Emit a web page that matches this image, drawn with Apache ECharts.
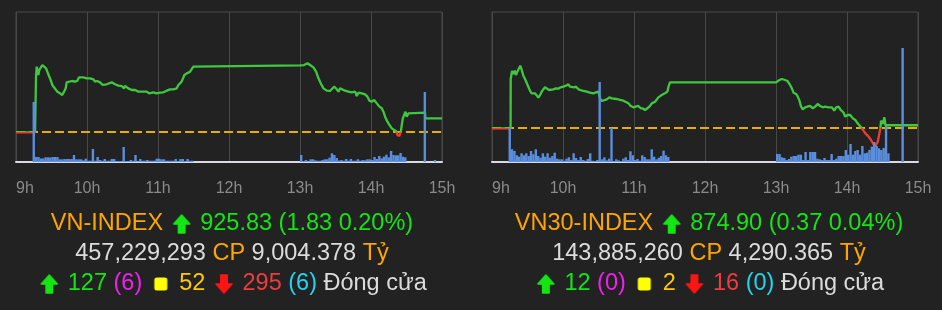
<!DOCTYPE html>
<html><head><meta charset="utf-8">
<script src="https://cdn.jsdelivr.net/npm/echarts@6/dist/echarts.min.js"></script>
<style>html,body{margin:0;padding:0;background:#222222;}#c{width:942px;height:310px;}</style>
</head><body><div id="c"></div>
<script>
// ---- tick labels (x axis: minutes after 09:00) ----
const hourTicks = ['9h', '10h', '11h', '12h', '13h', '14h', '15h'];

// ---- VN-INDEX ----
const vnRef = 924.00;
const vnTime = [0,16.1,16.9,17.5,18.9,19.7,20.9,22.3,23.9,25.4,26.8,27.9,29.3,30.7,32.1,33.5,34.9,37.2,39.1,40.6,42.0,42.8,44.2,47.1,49.9,51.8,53.3,56.9,59.7,62.6,65.4,66.8,68.7,71.0,73.3,76.6,80.9,83.7,86.5,89.3,91.3,92.1,94.9,97.8,100.6,103.4,106.2,107.6,110.5,112.4,116.1,118.9,121.7,124.5,127.4,130.2,133.0,135.8,137.2,140.0,142.3,144.3,147.1,148.5,149.9,150.5,
  240.1,241.5,243.4,246.3,248.5,251.3,253.6,255.6,257.5,259.8,262.6,265.4,266.8,268.8,270.5,272.5,273.9,275.3,278.1,280.9,283.7,286.6,288.0,289.4,292.2,295.0,297.0,298.7,300.6,302.6,304.9,307.1,309.1,310.5,311.9,313.9,315.6,317.6,319.5,321.2,322.3,324.0,325.2,326.0,326.9,328.0,329.1,330.2,331.6,345.7,345.9,360];
const vnPrice = [923.96,923.96,931.30,932.71,931.60,932.27,932.04,932.93,932.80,932.49,932.27,931.47,930.93,930.27,929.96,929.96,929.38,929.16,928.93,929.38,929.82,930.62,930.84,930.80,930.71,930.84,931.29,931.29,931.16,931.16,931.02,930.71,930.80,930.62,930.27,930.36,930.62,930.36,930.18,930.13,929.82,930.13,929.82,929.60,929.60,929.38,929.38,929.16,929.38,929.16,929.29,929.16,929.24,929.29,929.51,929.69,929.69,929.82,930.27,930.71,931.60,931.82,932.04,932.27,932.71,932.87,
  932.87,932.67,932.93,933.16,932.93,932.62,932.04,931.16,930.49,929.82,929.51,929.47,929.69,930.04,929.82,929.38,929.82,929.60,929.51,929.38,929.29,929.38,928.80,929.24,929.16,929.02,928.71,928.18,928.04,928.27,927.82,927.38,927.16,926.71,926.04,925.38,924.93,924.49,924.27,924.13,923.60,923.47,924.04,924.93,925.82,926.04,926.71,926.04,926.49,926.58,925.83,925.83];
const vnVolTime = [15,17,19,21,23,25,27,29,31,33,35,37,39,41,43,45,47,49,51,53,55,57,59,61,63,65,67,69,71,73,75,77,79,81,83,85,87,89,91,93,95,97,99,101,103,105,107,109,111,113,115,117,119,121,123,125,127,129,131,133,135,137,139,141,143,145,147,149,
  241,243,245,247,249,251,253,255,257,259,261,263,265,267,269,271,273,275,277,279,281,283,285,287,289,291,293,295,297,299,301,303,305,307,309,311,313,315,317,319,321,323,325,327,329,345.5,354];
const vnVolume = [60,5,5,3.5,3.5,4.7,4.7,4.5,5,5,5,2.7,2.7,3,3,3,3,7,2.7,2.7,2.7,1.7,3.3,1.3,1.3,13,1.3,5,2,1.3,3,1.3,1.3,3,3,1,1,1,15,1,1,2,1.3,7,0.7,3,1.3,1.3,2,1.3,1.3,1.3,3.3,3.3,2.7,2.7,1.3,1.3,1.3,1.3,3,1,3,3,1,3,1.3,1.3,
  7,1,2,0.7,2.7,2.7,1.7,1.3,1.3,2,2.7,2.7,4.3,8.7,7,4,1.5,2,1.3,3,1.3,3,1.3,1.3,2.7,1.3,2,1.7,2.7,2.7,2,5,3,6,3.7,5.3,7.3,4.7,11,7,6.7,6.7,9,5.3,4.7,70,2];
const vnHead = ['VN-INDEX', '925.83', '1.83', '0.20%'];
const vnTrade = ['457,229,293', '9,004.378'];
const vnBreadth = ['127', '6', '52', '295', '6'];

// ---- VN30-INDEX ----
const vn30Ref = 874.53;
const vn30Time = [0,15.7,15.8,16.9,18.0,19.2,20.3,21.4,22.8,23.9,25.1,26.5,27.9,29.3,30.7,32.1,33.5,34.9,36.3,37.7,39.2,40.6,42.0,43.4,44.8,46.2,48.2,49.6,51.8,54.1,56.1,58.0,60.3,62.5,64.5,65.9,67.3,69.3,71.0,73.0,74.4,77.2,80.0,82.8,85.7,87.9,89.9,91.3,92.7,94.1,97.0,99.2,101.2,102.6,105.4,108.2,111.0,112.4,115.3,117.2,119.5,120.9,123.7,125.7,127.4,129.3,131.3,133.6,135.0,136.4,137.8,140.6,143.4,146.2,148.2,149.3,150.4,
  240.1,241.2,242.9,244.9,247.7,249.7,251.9,253.4,254.8,257.0,258.4,259.8,261.2,262.6,264.6,266.6,268.8,271.1,273.1,275.1,277.3,279.6,281.5,284.4,287.2,289.2,290.9,292.8,294.8,297.1,298.5,300.4,302.7,305.0,307.0,309.0,310.6,312.6,315.5,318.3,320.3,322.0,323.7,324.8,326.0,327.1,328.2,328.8,330.2,331.6,332.5,360];
const vn30Price = [874.49,874.49,881.07,882.13,881.73,882.18,881.60,882.04,882.49,882.84,882.27,881.51,881.07,880.93,880.04,879.51,879.16,879.38,879.16,878.93,878.58,878.93,879.38,879.69,879.96,879.82,879.60,879.78,879.69,879.82,879.78,879.96,880.04,880.18,880.36,880.04,879.78,879.96,880.04,879.69,879.51,879.47,879.38,879.24,879.16,879.29,879.38,878.49,878.13,878.27,878.36,878.62,878.49,878.36,878.40,878.27,878.18,878.04,877.82,877.47,877.29,877.47,877.47,877.16,877.16,876.93,877.16,877.47,877.82,877.60,878.04,878.62,878.93,879.16,879.38,880.13,880.62,
  880.62,880.71,880.93,881.07,880.93,880.80,880.27,879.82,879.24,879.07,878.71,878.18,877.38,877.02,877.29,877.38,877.47,877.16,877.38,877.73,877.47,877.29,877.38,877.29,877.29,876.84,877.29,877.38,876.93,876.58,876.04,876.27,876.27,875.82,875.60,875.16,874.93,874.49,873.82,873.38,872.93,872.49,872.04,871.91,872.71,873.60,874.49,875.51,875.07,875.96,874.90,874.90];
const vn30VolTime = [15,17,19,21,23,25,27,29,31,33,35,37,39,41,43,45,47,49,51,53,55,57,59,61,63,65,67,69,71,73,75,77,79,81,83,85,87,89,91,93,95,97,99,101,103,105,107,109,111,113,115,117,119,121,123,125,127,129,131,133,135,137,139,141,143,145,147,149,
  241,243,245,247,249,251,253,255,257,259,261,263,265,267,269,271,273,275,277,279,281,283,285,287,289,291,293,295,297,299,301,303,305,307,309,311,313,315,317,319,321,323,325,327,329,331,333,335,347];
const vn30Volume = [34,12.7,11,6.7,5.3,8.7,6.7,8.7,6,11,7.7,12.7,6,4.3,8.7,5.3,8.7,4.3,6,9.3,3.3,2.7,2.7,1.3,3.3,4.7,2,8.7,4,2,5,2,1.3,3,8.7,1.3,1,2,80,2.7,4.7,1.7,3.3,34,1,2.7,1.7,1,3.3,4.7,2,10.7,6.7,2,3,1.3,6.7,5,2.7,2.7,12.7,5.3,2.7,4.3,6,11.3,6.7,5,
  8,8,4.7,4,2,3,5.3,6,6,7.3,7.3,2,10,2,10,10,10,3.3,2.7,2,4,2,2,8,2,3.3,6,6,6,12,7.3,18,7.3,11,12,7.3,16,8.7,9.3,12,15.3,20,16,13.7,12,14,36,8.7,114];
const vn30Head = ['VN30-INDEX', '874.90', '0.37', '0.04%'];
const vn30Trade = ['143,885,260', '4,290.365'];
const vn30Breadth = ['12', '0', '2', '16', '0'];

// ---- helpers ----
const FONT = 'Liberation Sans, Arial, sans-serif';
const FS = 23.5;
const UP = '#3ec83e', DOWN = '#f03c2c';
function icon(kind, color) {
  const c = document.createElement('canvas');
  c.width = 24; c.height = 20;
  const g = c.getContext('2d');
  g.fillStyle = color; g.strokeStyle = color; g.lineJoin = 'round'; g.lineWidth = 1.5;
  g.beginPath();
  if (kind === 'sq') {
    const x = 5.5, y = 3.5, w = 13, h = 13, r = 2.5;
    g.moveTo(x + r, y); g.lineTo(x + w - r, y); g.quadraticCurveTo(x + w, y, x + w, y + r);
    g.lineTo(x + w, y + h - r); g.quadraticCurveTo(x + w, y + h, x + w - r, y + h);
    g.lineTo(x + r, y + h); g.quadraticCurveTo(x, y + h, x, y + h - r);
    g.lineTo(x, y + r); g.quadraticCurveTo(x, y, x + r, y);
    g.closePath(); g.fill();
    return c;
  }
  const pts = [[12, 1], [20, 10], [15.2, 10], [15.2, 19], [8.8, 19], [8.8, 10], [4, 10]];
  pts.forEach((p, i) => {
    const y = kind === 'dn' ? 20 - p[1] : p[1];
    if (i === 0) g.moveTo(p[0], y); else g.lineTo(p[0], y);
  });
  g.closePath(); g.fill(); g.stroke();
  return c;
}
const upIcon = icon('up', '#14e614');
const dnIcon = icon('dn', '#ff1414');
const sqIcon = icon('sq', '#ffff00');
function rs(color) { return { color: color, fontSize: FS, fontFamily: FONT, fontWeight: 'normal', lineHeight: 30 }; }
const rich = {
  o: rs('#ffa500'), g: rs('#14e614'), w: rs('#dcdcdc'), m: rs('#f020f0'),
  y: rs('#ffc800'), r: rs('#f03c3c'), c: rs('#22d4ee'),
  up: { width: 24, height: 20, lineHeight: 30, backgroundColor: { image: upIcon } },
  dn: { width: 24, height: 20, lineHeight: 30, backgroundColor: { image: dnIcon } },
  sq: { width: 24, height: 20, lineHeight: 30, backgroundColor: { image: sqIcon } }
};
function titleText(h, t, b) {
  return '{o|' + h[0] + '} {up|} {g|' + h[1] + ' (' + h[2] + ' ' + h[3] + ')}\n' +
    '{w|' + t[0] + '} {o|CP} {w|' + t[1] + '} {o|Tỷ}\n' +
    '{up|} {g|' + b[0] + '} {m|(' + b[1] + ')} {sq|} {y|' + b[2] + '} {dn|} {r|' + b[3] + '} {c|(' + b[4] + ')} {w|Đóng cửa}';
}
function xAxisFor(i) {
  return {
    gridIndex: i, type: 'value', min: 0, max: 360, interval: 60,
    axisLine: { show: true, onZero: false, lineStyle: { color: '#dadae4', width: 2 } },
    axisTick: { show: false },
    splitLine: { show: true, lineStyle: { color: '#484848', width: 1 } },
    axisLabel: {
      color: '#8a8a8a', fontSize: 16, fontFamily: FONT, margin: 19,
      showMinLabel: true, showMaxLabel: true, alignMinLabel: 'left',
      formatter: v => hourTicks[Math.round(v / 60)]
    }
  };
}
function zip(a, b) { return a.map((t, i) => [t, b[i]]); }
function panelSeries(k, times, prices, ref, vt, vv) {
  return [
    { type: 'line', xAxisIndex: k, yAxisIndex: 2 * k, data: zip(times, prices), showSymbol: false, symbol: 'none',
      lineStyle: { width: 2.3 }, z: 3, silent: true },
    { type: 'line', xAxisIndex: k, yAxisIndex: 2 * k, data: [[0, ref], [360, ref]], showSymbol: false, symbol: 'none',
      lineStyle: { width: 2, color: '#e2ae08', type: [9, 4] }, itemStyle: { color: '#e2ae08' }, z: 2, silent: true },
    { type: 'bar', xAxisIndex: k, yAxisIndex: 2 * k + 1, data: zip(vt, vv), barWidth: 2.4,
      itemStyle: { color: '#5a8fdf' }, z: 4, silent: true }
  ];
}

const chart = echarts.init(document.getElementById('c'), null, { renderer: 'canvas' });
chart.setOption({
  backgroundColor: '#222222',
  animation: false,
  title: [
    { left: 232, top: 209, textAlign: 'center', padding: 0, text: titleText(vnHead, vnTrade, vnBreadth),
      textStyle: { fontSize: FS, fontFamily: FONT, fontWeight: 'normal', color: '#dcdcdc', lineHeight: 30, rich: rich } },
    { left: 709, top: 209, textAlign: 'center', padding: 0, text: titleText(vn30Head, vn30Trade, vn30Breadth),
      textStyle: { fontSize: FS, fontFamily: FONT, fontWeight: 'normal', color: '#dcdcdc', lineHeight: 30, rich: rich } }
  ],
  grid: [
    { left: 16, top: 12, width: 426, height: 150, show: true, borderColor: '#4a4a4a', borderWidth: 1, backgroundColor: 'transparent' },
    { left: 492, top: 12, width: 426, height: 150, show: true, borderColor: '#4a4a4a', borderWidth: 1, backgroundColor: 'transparent' }
  ],
  xAxis: [xAxisFor(0), xAxisFor(1)],
  yAxis: [
    { gridIndex: 0, type: 'value', min: 920, max: 940, show: false },
    { gridIndex: 0, type: 'value', min: 0, max: 150, show: false },
    { gridIndex: 1, type: 'value', min: 870, max: 890, show: false },
    { gridIndex: 1, type: 'value', min: 0, max: 150, show: false }
  ],
  visualMap: [
    { type: 'piecewise', show: false, seriesIndex: 0, dimension: 1,
      pieces: [{ gte: 920, lt: vnRef, color: DOWN }, { gte: vnRef, lte: 940, color: UP }] },
    { type: 'piecewise', show: false, seriesIndex: 3, dimension: 1,
      pieces: [{ gte: 870, lt: vn30Ref, color: DOWN }, { gte: vn30Ref, lte: 890, color: UP }] }
  ],
  series: [].concat(
    panelSeries(0, vnTime, vnPrice, vnRef, vnVolTime, vnVolume),
    panelSeries(1, vn30Time, vn30Price, vn30Ref, vn30VolTime, vn30Volume)
  )
});
</script>
</body></html>
